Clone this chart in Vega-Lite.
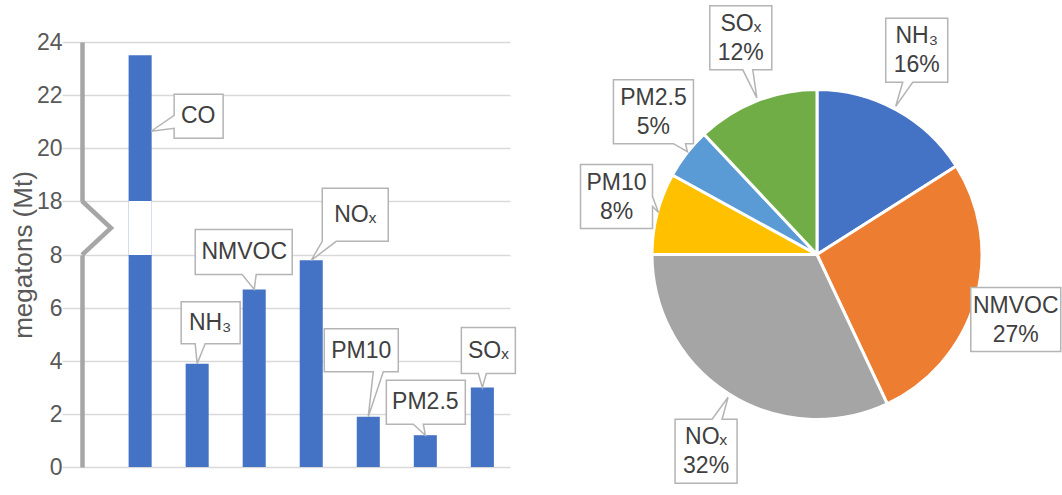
{
  "$schema": "https://vega.github.io/schema/vega-lite/v6.json",
  "background": "white",
  "padding": {"left": 10, "top": 2, "right": 0, "bottom": 0},
  "bounds": "flush",
  "spacing": 97,
  "resolve": {"scale": {"shape": "independent", "color": "independent"}},
  "config": {
    "font": "Liberation Sans",
    "view": {"stroke": null},
    "axis": {"labelFont": "Liberation Sans", "titleFont": "Liberation Sans"}
  },
  "datasets": {
    "emissions": [
      {"pollutant": "CO", "value": 23.5},
      {"pollutant": "NH₃", "value": 3.9},
      {"pollutant": "NMVOC", "value": 6.7},
      {"pollutant": "NOₓ", "value": 7.8},
      {"pollutant": "PM10", "value": 1.9},
      {"pollutant": "PM2.5", "value": 1.2},
      {"pollutant": "SOₓ", "value": 3.0}
    ],
    "shares": [
      {"pollutant": "NH₃", "share": 0.16},
      {"pollutant": "NMVOC", "share": 0.27},
      {"pollutant": "NOₓ", "share": 0.32},
      {"pollutant": "PM10", "share": 0.08},
      {"pollutant": "PM2.5", "share": 0.05},
      {"pollutant": "SOₓ", "share": 0.12}
    ]
  },
  "hconcat": [
    {
      "width": 428,
      "height": 425,
      "data": {"name": "emissions"},
      "resolve": {"scale": {"x": "independent"}},
      "layer": [
        {
          "encoding": {
            "x": {
              "field": "pollutant",
              "type": "nominal",
              "sort": null,
              "axis": null,
              "scale": {
                "domain": ["CO", "NH₃", "NMVOC", "NOₓ", "PM10", "PM2.5", "SOₓ"],
                "paddingInner": 0.596,
                "paddingOuter": 0.55,
                "align": 0.743
              }
            },
            "y": {
              "field": "value",
              "type": "quantitative",
              "scale": {"domain": [0, 8, 18, 24], "range": [425, 213, 159, 0], "nice": false, "zero": false},
              "axis": {
                "values": [0, 2, 4, 6, 8, 18, 20, 22, 24],
                "title": "megatons (Mt)",
                "titleFontSize": 26,
                "titleFontWeight": "normal",
                "titleColor": "#595959",
                "titlePadding": 0,
                "labelFontSize": 23,
                "labelColor": "#595959",
                "labelPadding": 0,
                "grid": true,
                "gridColor": "#D9D9D9",
                "gridWidth": 1.5,
                "ticks": true,
                "tickSize": 20,
                "tickColor": "#D9D9D9",
                "tickWidth": 1.5,
                "domain": true,
                "domainColor": "#A6A6A6",
                "domainWidth": 4.5,
                "domainDash": [212, 54, 400]
              }
            }
          },
          "layer": [
            {"mark": {"type": "bar", "color": "#4472C4"}},
            {
              "transform": [{"filter": "datum.value > 18"}],
              "mark": {"type": "bar", "color": "white"},
              "encoding": {"y": {"datum": 8}, "y2": {"datum": 18}}
            },
            {
              "mark": {"type": "point", "size": 4, "filled": true, "fill": "white", "stroke": "#B4B4B4", "strokeWidth": 1.5, "opacity": 1},
              "encoding": {
                "shape": {
                  "field": "pollutant",
                  "type": "nominal",
                  "legend": null,
                  "scale": {
                    "domain": ["CO", "NH₃", "NMVOC", "NOₓ", "PM10", "PM2.5", "SOₓ"],
                    "range": [
                      "M34,39H83V83H34V73L11,76L34,60Z",
                      "M-16,-62H43V-20H8L0,0L-2,-20H-16Z",
                      "M-59,-60H38V-15H2L0,0L-12,-15H-59Z",
                      "M11,-72H77V-19H25L0,0L11,-19Z",
                      "M-44,-88H30V-45H15L0,0L5,-45H-44Z",
                      "M-39,-55H40V-11H-2L0,0L-12,-11H-39Z",
                      "M-21,-60H33V-14H4L0,0L-4,-14H-21Z"
                    ]
                  }
                }
              }
            },
            {
              "transform": [{"filter": "datum.pollutant === 'CO'"}],
              "mark": {"type": "text", "fontSize": 23, "color": "#404040", "xOffset": 58, "yOffset": 61},
              "encoding": {"text": {"field": "pollutant"}}
            },
            {
              "transform": [{"filter": "datum.pollutant === 'NH₃'"}],
              "mark": {"type": "text", "fontSize": 23, "color": "#404040", "xOffset": 13, "yOffset": -41},
              "encoding": {"text": {"field": "pollutant"}}
            },
            {
              "transform": [{"filter": "datum.pollutant === 'NMVOC'"}],
              "mark": {"type": "text", "fontSize": 23, "color": "#404040", "xOffset": -10, "yOffset": -37},
              "encoding": {"text": {"field": "pollutant"}}
            },
            {
              "transform": [{"filter": "datum.pollutant === 'NOₓ'"}],
              "mark": {"type": "text", "fontSize": 23, "color": "#404040", "xOffset": 44, "yOffset": -45},
              "encoding": {"text": {"field": "pollutant"}}
            },
            {
              "transform": [{"filter": "datum.pollutant === 'PM10'"}],
              "mark": {"type": "text", "fontSize": 23, "color": "#404040", "xOffset": -7, "yOffset": -66},
              "encoding": {"text": {"field": "pollutant"}}
            },
            {
              "transform": [{"filter": "datum.pollutant === 'PM2.5'"}],
              "mark": {"type": "text", "fontSize": 23, "color": "#404040", "xOffset": 0, "yOffset": -33},
              "encoding": {"text": {"field": "pollutant"}}
            },
            {
              "transform": [{"filter": "datum.pollutant === 'SOₓ'"}],
              "mark": {"type": "text", "fontSize": 23, "color": "#404040", "xOffset": 6, "yOffset": -37},
              "encoding": {"text": {"field": "pollutant"}}
            }
          ]
        },
        {
          "data": {"values": [{"gap": "axis break"}]},
          "mark": {"type": "point", "shape": "M0,-27L29,0L0,27", "size": 4, "filled": false, "stroke": "#A6A6A6", "strokeWidth": 4.5, "opacity": 1},
          "encoding": {
            "x": {"datum": 0, "type": "quantitative", "scale": {"domain": [0, 1], "nice": false}, "axis": null},
            "y": {"datum": 13, "type": "quantitative"}
          }
        }
      ]
    },
    {
      "width": 420,
      "height": 425,
      "data": {"name": "shares"},
      "transform": [
        {"stack": "share", "groupby": [], "sort": [{"field": "pollutant", "order": "ascending"}], "as": ["s0", "s1"]},
        {"calculate": "(datum.s0 + datum.s1) * PI", "as": "mid"},
        {"calculate": "207 * sin(datum.mid)", "as": "lx"},
        {"calculate": "233 * cos(datum.mid)", "as": "ly"}
      ],
      "layer": [
        {
          "mark": {"type": "arc", "outerRadius": 165, "stroke": "white", "strokeWidth": 3},
          "encoding": {
            "theta": {"field": "s0", "type": "quantitative", "stack": null, "scale": {"domain": [0, 1], "nice": false}},
            "theta2": {"field": "s1"},
            "color": {
              "field": "pollutant",
              "type": "nominal",
              "legend": null,
              "scale": {
                "domain": ["NH₃", "NMVOC", "NOₓ", "PM10", "PM2.5", "SOₓ"],
                "range": ["#4472C4", "#ED7D31", "#A5A5A5", "#FFC000", "#5B9BD5", "#70AD47"]
              }
            }
          }
        },
        {
          "encoding": {
            "x": {"field": "lx", "type": "quantitative", "scale": {"domain": [-210, 210], "nice": false, "zero": false}, "axis": null},
            "y": {"field": "ly", "type": "quantitative", "scale": {"domain": [-212.5, 212.5], "nice": false, "zero": false}, "axis": null}
          },
          "layer": [
            {
              "mark": {"type": "point", "size": 4, "filled": true, "fill": "white", "stroke": "#B4B4B4", "strokeWidth": 1.5, "opacity": 1},
              "encoding": {
                "shape": {
                  "field": "pollutant",
                  "type": "nominal",
                  "legend": null,
                  "scale": {
                    "domain": ["NH₃", "NMVOC", "NOₓ", "PM10", "PM2.5", "SOₓ"],
                    "range": [
                      "M-31,-32H31V32H-4L-21,56L-14,32H-31Z",
                      "M-45,-32H45V32H-45Z",
                      "M-31,-32H6L22,-54L16,-32H31V32H-31Z",
                      "M-36,-32H36V0L42,16L36,10V32H-36Z",
                      "M-40,-32H40V32H32L34,40L20,32H-40Z",
                      "M-31,-32H31V32H12L16,60L2,32H-31Z"
                    ]
                  }
                }
              }
            },
            {
              "mark": {"type": "text", "fontSize": 23, "color": "#404040", "yOffset": -14},
              "encoding": {"text": {"field": "pollutant"}}
            },
            {
              "mark": {"type": "text", "fontSize": 23, "color": "#404040", "yOffset": 15},
              "encoding": {"text": {"field": "share", "format": ".0%"}}
            }
          ]
        }
      ]
    }
  ]
}
